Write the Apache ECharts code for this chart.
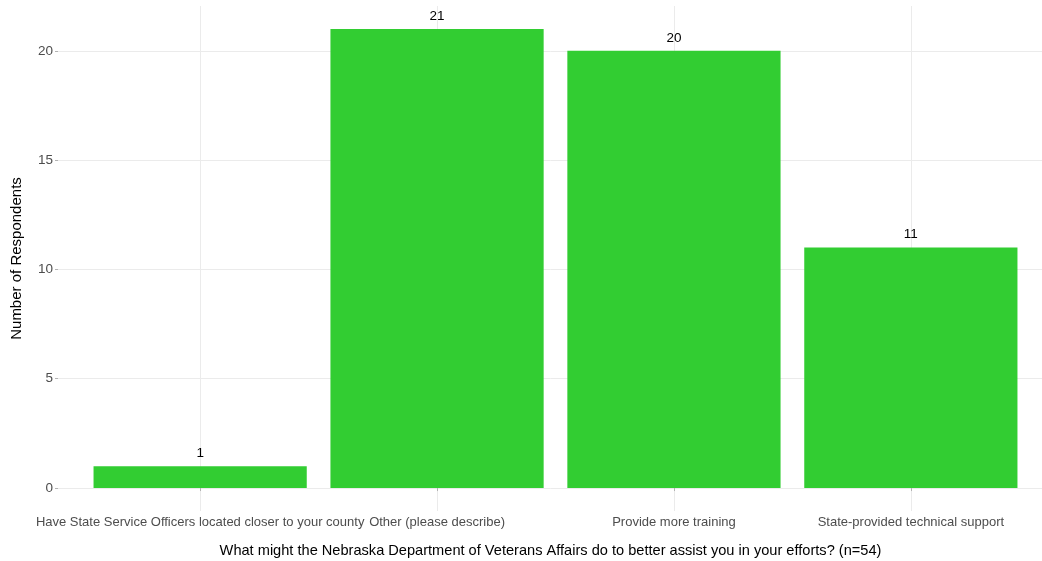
<!DOCTYPE html>
<html>
<head>
<meta charset="utf-8">
<script src="https://cdn.jsdelivr.net/npm/echarts@6/dist/echarts.min.js"></script>
<style>
  html, body { margin: 0; padding: 0; background: #ffffff; }
  #chart { width: 1042px; height: 561px; }
</style>
</head>
<body>
<div id="chart"></div>
<script>
// Survey responses: what the department could do to better assist
const categories = [
  'Have State Service Officers located closer to your county',
  'Other (please describe)',
  'Provide more training',
  'State-provided technical support'
];
const respondents = [1, 21, 20, 11];
const yTicks = [0, 5, 10, 15, 20];

const xPositions = categories.map((_, i) => i + 1);
const barData = respondents.map((v, i) => [xPositions[i], v]);

const yMax = Math.max(...respondents);
const pad = yMax * 0.05;

const chart = echarts.init(document.getElementById('chart'), null, { renderer: 'canvas' });

const fontFamily = '"Liberation Sans", Arial, sans-serif';
const gridColor = '#ebebeb';
const tickColor = '#b3b3b3';

chart.setOption({
  animation: false,
  backgroundColor: '#ffffff',
  grid: {
    left: 58, top: 6, width: 995, height: 505,
    containLabel: false,
    outerBoundsMode: 'none'
  },
  xAxis: {
    type: 'value',
    min: 0.4,
    max: 4.6,
    name: 'What might the Nebraska Department of Veterans Affairs do to better assist you in your efforts? (n=54)',
    nameLocation: 'middle',
    nameGap: 32,
    nameTextStyle: { color: '#000000', fontSize: 14.6, fontFamily, padding: [0, 10, 0, 0] },
    axisLine: { show: false },
    axisTick: { show: true, length: 3, lineStyle: { color: tickColor }, customValues: xPositions },
    axisLabel: {
      customValues: xPositions,
      color: '#4d4d4d',
      fontSize: 13,
      fontFamily,
      margin: 5,
      formatter: v => categories[Math.round(v) - 1] || ''
    },
    splitLine: { show: true, lineStyle: { color: gridColor, width: 1 } }
  },
  yAxis: {
    type: 'value',
    min: -pad,
    max: yMax + pad,
    name: 'Number of Respondents',
    nameLocation: 'middle',
    nameGap: 34,
    nameRotate: 90,
    nameTextStyle: { color: '#000000', fontSize: 15, fontFamily },
    axisLine: { show: false },
    axisTick: { show: true, length: 3, lineStyle: { color: tickColor }, customValues: yTicks },
    axisLabel: { customValues: yTicks, color: '#4d4d4d', fontSize: 13.5, fontFamily, margin: 5 },
    splitLine: { show: true, lineStyle: { color: gridColor, width: 1 } }
  },
  series: [{
    type: 'bar',
    data: barData,
    barWidth: '90%',
    itemStyle: { color: '#32cd32' },
    label: {
      show: true,
      position: 'top',
      distance: 6,
      color: '#000000',
      fontSize: 13.5,
      fontFamily,
      formatter: p => p.value[1]
    }
  }]
});
</script>
</body>
</html>
